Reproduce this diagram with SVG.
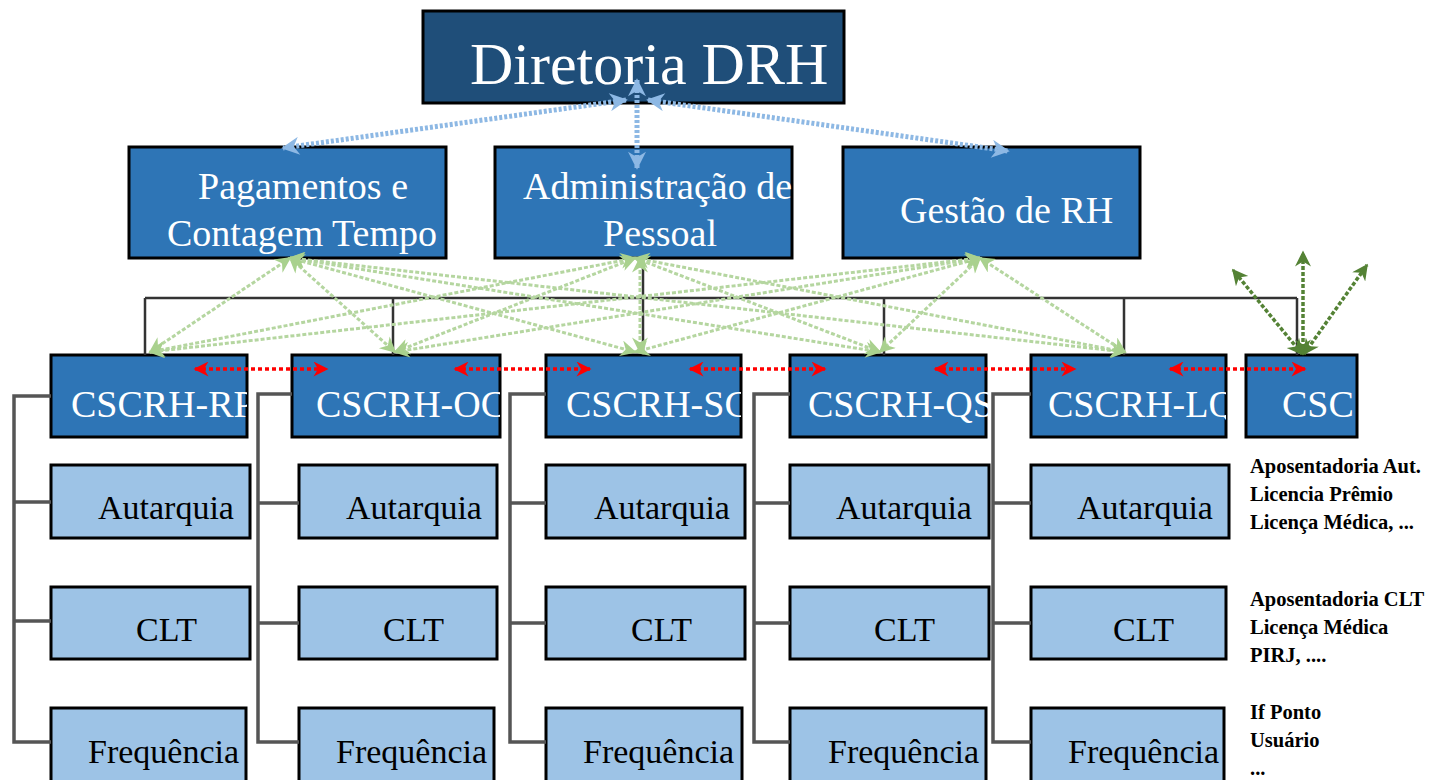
<svg xmlns="http://www.w3.org/2000/svg" width="1433" height="780" viewBox="0 0 1433 780">
<style>
.bx{stroke:#000;stroke-width:3}
.top{fill:#1F4E79}
.mid{fill:#2E75B6}
.lt{fill:#9DC3E6}
.wt{font-family:"Liberation Serif","Times New Roman",serif;fill:#fff}
.bt{font-family:"Liberation Serif","Times New Roman",serif;fill:#000;font-size:34px}
.nt{font-family:"Liberation Serif","Times New Roman",serif;fill:#000;font-size:20.5px;font-weight:bold}
.br{fill:none;stroke:#555;stroke-width:3.5}
.ln{fill:none;stroke:#333;stroke-width:2.5}
.red{fill:none;stroke:#f00;stroke-width:3.5;stroke-dasharray:4 3;marker-start:url(#mr);marker-end:url(#mr)}
.grn{fill:none;stroke:#B5D6A0;stroke-width:3;stroke-dasharray:4 2;marker-start:url(#mg);marker-end:url(#mg)}
.blu{fill:none;stroke:#8DB8E4;stroke-width:5;stroke-dasharray:3 2;marker-start:url(#mb);marker-end:url(#mb)}
.dg{fill:none;stroke:#548235;stroke-width:3.5;stroke-dasharray:4 2;marker-start:url(#md);marker-end:url(#md)}
</style>
<defs>
<marker id="mr" viewBox="0 0 10 10" refX="9" refY="5" markerWidth="18" markerHeight="15" markerUnits="userSpaceOnUse" orient="auto-start-reverse"><path d="M0,0 L10,5 L0,10 L3,5 z" fill="#f00"/></marker>
<marker id="mg" viewBox="0 0 10 10" refX="9" refY="5" markerWidth="18" markerHeight="16" markerUnits="userSpaceOnUse" orient="auto-start-reverse"><path d="M0,0 L10,5 L0,10 L3,5 z" fill="#A9D18E"/></marker>
<marker id="mb" viewBox="0 0 10 10" refX="9" refY="5" markerWidth="20" markerHeight="18" markerUnits="userSpaceOnUse" orient="auto-start-reverse"><path d="M0,0 L10,5 L0,10 L3,5 z" fill="#8DB8E4"/></marker>
<marker id="md" viewBox="0 0 10 10" refX="9" refY="5" markerWidth="18" markerHeight="16" markerUnits="userSpaceOnUse" orient="auto-start-reverse"><path d="M0,0 L10,5 L0,10 L3,5 z" fill="#548235"/></marker>
<clipPath id="c1"><rect x="51" y="355" width="196" height="82"/></clipPath>
<clipPath id="c2"><rect x="292" y="355" width="208" height="82"/></clipPath>
<clipPath id="c3"><rect x="546" y="355" width="195" height="82"/></clipPath>
<clipPath id="c5"><rect x="1031" y="355" width="195" height="82"/></clipPath>
</defs>

<g id="diretoria">
  <rect class="bx top" x="423" y="11" width="421" height="92"/>
  <text class="wt" x="470" y="84" font-size="60">Diretoria DRH</text>
</g>

<g id="pagamentos">
  <rect class="bx mid" x="129" y="147" width="317" height="111"/>
  <text class="wt" x="198" y="199" font-size="38">Pagamentos e</text>
  <text class="wt" x="167" y="246" font-size="38">Contagem Tempo</text>
</g>
<g id="administracao">
  <rect class="bx mid" x="495" y="147" width="297" height="111"/>
  <text class="wt" x="523" y="199" font-size="38">Administração de</text>
  <text class="wt" x="660" y="246" font-size="38" text-anchor="middle">Pessoal</text>
</g>
<g id="gestao">
  <rect class="bx mid" x="843" y="147" width="297" height="111"/>
  <text class="wt" x="900" y="223" font-size="38">Gestão de RH</text>
</g>

<g id="cscrh-rp">
  <rect class="bx mid" x="51" y="355" width="196" height="82"/>
  <text class="wt" x="71" y="417" font-size="38" clip-path="url(#c1)">CSCRH-RP</text>
</g>
<g id="cscrh-oc">
  <rect class="bx mid" x="292" y="355" width="208" height="82"/>
  <text class="wt" x="316" y="417" font-size="38" clip-path="url(#c2)">CSCRH-OC</text>
</g>
<g id="cscrh-sc">
  <rect class="bx mid" x="546" y="355" width="195" height="82"/>
  <text class="wt" x="566" y="417" font-size="38" clip-path="url(#c3)">CSCRH-SC</text>
</g>
<g id="cscrh-qs">
  <rect class="bx mid" x="790" y="355" width="196" height="82"/>
  <text class="wt" x="808" y="417" font-size="38">CSCRH-QS</text>
</g>
<g id="cscrh-lq">
  <rect class="bx mid" x="1031" y="355" width="195" height="82"/>
  <text class="wt" x="1048" y="417" font-size="38" clip-path="url(#c5)">CSCRH-LQ</text>
</g>
<g id="csc">
  <rect class="bx mid" x="1246" y="355" width="111" height="82"/>
  <text class="wt" x="1282" y="417" font-size="38">CSC</text>
</g>

<g id="col1">
  <g id="aut1"><rect class="bx lt" x="51" y="465" width="199" height="73"/><text class="bt" x="98" y="519">Autarquia</text></g>
  <g id="clt1"><rect class="bx lt" x="51" y="587" width="199" height="72"/><text class="bt" x="136" y="641">CLT</text></g>
  <g id="freq1"><rect class="bx lt" x="51" y="708" width="195" height="76"/><text class="bt" x="88" y="763">Frequência</text></g>
</g>
<g id="col2">
  <g id="aut2"><rect class="bx lt" x="299" y="465" width="198" height="73"/><text class="bt" x="346" y="519">Autarquia</text></g>
  <g id="clt2"><rect class="bx lt" x="299" y="587" width="198" height="72"/><text class="bt" x="383" y="641">CLT</text></g>
  <g id="freq2"><rect class="bx lt" x="299" y="708" width="195" height="76"/><text class="bt" x="336" y="763">Frequência</text></g>
</g>
<g id="col3">
  <g id="aut3"><rect class="bx lt" x="546" y="465" width="199" height="73"/><text class="bt" x="594" y="519">Autarquia</text></g>
  <g id="clt3"><rect class="bx lt" x="546" y="587" width="199" height="72"/><text class="bt" x="631" y="641">CLT</text></g>
  <g id="freq3"><rect class="bx lt" x="546" y="708" width="196" height="76"/><text class="bt" x="583" y="763">Frequência</text></g>
</g>
<g id="col4">
  <g id="aut4"><rect class="bx lt" x="790" y="465" width="199" height="73"/><text class="bt" x="836" y="519">Autarquia</text></g>
  <g id="clt4"><rect class="bx lt" x="790" y="587" width="199" height="72"/><text class="bt" x="874" y="641">CLT</text></g>
  <g id="freq4"><rect class="bx lt" x="790" y="708" width="196" height="76"/><text class="bt" x="828" y="763">Frequência</text></g>
</g>
<g id="col5">
  <g id="aut5"><rect class="bx lt" x="1031" y="465" width="198" height="73"/><text class="bt" x="1077" y="519">Autarquia</text></g>
  <g id="clt5"><rect class="bx lt" x="1031" y="587" width="195" height="72"/><text class="bt" x="1113" y="641">CLT</text></g>
  <g id="freq5"><rect class="bx lt" x="1031" y="708" width="193" height="76"/><text class="bt" x="1068" y="763">Frequência</text></g>
</g>

<g id="notes">
  <text class="nt" x="1250" y="473">Aposentadoria Aut.</text>
  <text class="nt" x="1250" y="501">Licencia Prêmio</text>
  <text class="nt" x="1250" y="529">Licença Médica, ...</text>
  <text class="nt" x="1250" y="606">Aposentadoria CLT</text>
  <text class="nt" x="1250" y="634">Licença Médica</text>
  <text class="nt" x="1250" y="662">PIRJ, ....</text>
  <text class="nt" x="1250" y="719">If Ponto</text>
  <text class="nt" x="1250" y="747">Usuário</text>
  <text class="nt" x="1250" y="775">...</text>
</g>

<g id="connectors">
  <path class="ln" d="M145,298 H1297 M145,298 V355 M393,298 V355 M643,258 V355 M884,298 V355 M1124,298 V355 M1297,298 V355"/>
  <path class="br" d="M51,396 H14 V742 H51 M14,502 H51 M14,621 H51"/>
  <path class="br" d="M292,394 H258 V742 H299 M258,503 H299 M258,623 H299"/>
  <path class="br" d="M546,394 H510 V742 H546 M510,503 H546 M510,623 H546"/>
  <path class="br" d="M790,394 H754 V742 H790 M754,503 H790 M754,623 H790"/>
  <path class="br" d="M1031,394 H993 V742 H1031 M993,503 H1031 M993,623 H1031"/>
  <line class="grn" x1="290" y1="258" x2="150" y2="352"/>
  <line class="grn" x1="290" y1="258" x2="395" y2="352"/>
  <line class="grn" x1="290" y1="258" x2="635" y2="352"/>
  <line class="grn" x1="290" y1="258" x2="880" y2="352"/>
  <line class="grn" x1="290" y1="258" x2="1125" y2="352"/>
  <line class="grn" x1="635" y1="258" x2="150" y2="352"/>
  <line class="grn" x1="635" y1="258" x2="395" y2="352"/>
  <line class="grn" x1="640" y1="258" x2="640" y2="352"/>
  <line class="grn" x1="635" y1="258" x2="880" y2="352"/>
  <line class="grn" x1="635" y1="258" x2="1125" y2="352"/>
  <line class="grn" x1="980" y1="258" x2="150" y2="352"/>
  <line class="grn" x1="980" y1="258" x2="395" y2="352"/>
  <line class="grn" x1="980" y1="258" x2="635" y2="352"/>
  <line class="grn" x1="980" y1="258" x2="880" y2="352"/>
  <line class="grn" x1="980" y1="258" x2="1125" y2="352"/>
  <line class="blu" x1="626" y1="100" x2="283" y2="148"/>
  <line class="blu" x1="637" y1="80" x2="637" y2="168"/>
  <line class="blu" x1="648" y1="100" x2="1008" y2="151"/>
  <line class="dg" x1="1302" y1="354" x2="1233" y2="270"/>
  <line class="dg" x1="1303" y1="354" x2="1303" y2="252"/>
  <line class="dg" x1="1304" y1="354" x2="1367" y2="265"/>
  <line class="red" x1="195" y1="369" x2="327" y2="369"/>
  <line class="red" x1="455" y1="369" x2="590" y2="369"/>
  <line class="red" x1="690" y1="369" x2="825" y2="369"/>
  <line class="red" x1="935" y1="369" x2="1075" y2="369"/>
  <line class="red" x1="1170" y1="369" x2="1305" y2="369"/>
</g>
</svg>
